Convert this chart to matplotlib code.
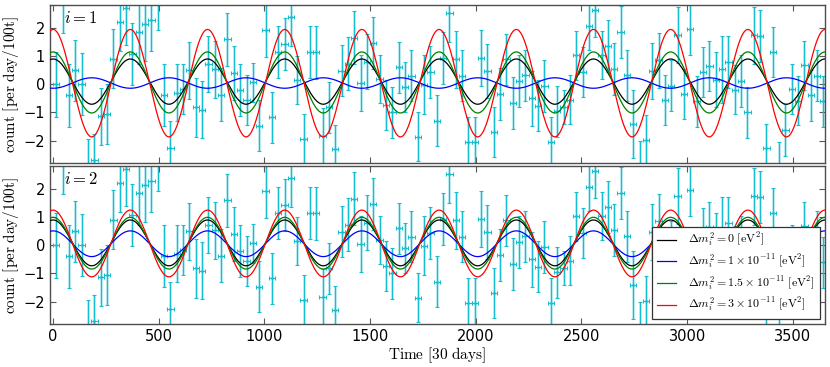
import numpy as np
import matplotlib
matplotlib.use("Agg")
import matplotlib.pyplot as plt

plt.rcParams["mathtext.fontset"] = "cm"
plt.rcParams["font.family"] = ["DejaVu Sans"]

# ---- data (30-day bins) ----
bin_start = 0
bin_width = 30
n_bins = 122
counts = [0.0, 3.0, -0.4, 0.49, 0.0, -3.0, -2.7, -1.14, -1.06, 0.9,
          2.19, 2.7, 1.08, 1.83, 2.13, 2.28, 2.9, -0.37, -2.25, -0.3,
          -0.17, 0.49, -0.82, -0.9, 0.72, 0.52, -0.37, 1.58, 0.4, -0.2,
          -0.56, 0.06, -1.47, 1.9, -1.17, 1.14, 1.42, 2.36, 0.15, -1.95,
          1.14, 1.12, -1.82, -0.82, -2.29, 0.48, 0.73, 1.65, 0.04, 0.8,
          1.44, 0.19, -0.74, -1.0, 0.6, -0.1, 0.3, -1.86, -0.02, 0.43,
          -1.3, 0.94, 2.5, 0.88, 0.3, -2.05, -2.05, 0.93, 0.46, -1.69,
          -0.35, 0.88, -0.68, 0.1, 0.31, -0.5, -0.76, -0.07, -2.06, -0.96,
          -0.8, -0.55, 1.02, 0.43, 2.06, 2.63, 1.02, 1.36, 0.52, 1.86,
          0.31, -1.42, -3.0, -1.98, 0.46, 0.85, -0.56, -0.05, 1.74, -0.35,
          1.94, -0.6, 0.43, 0.63, 0.15, 0.52, 0.79, -0.2, 0.11, -1.0,
          1.73, 1.71, -2.25, 1.14, -3.0, -1.62, -0.17, -0.58, 0.67, -0.4,
          0.3, -0.6]
count_err = [1.15, 1.2, 1.1, 1.07, 1.1, 1.05, 0.95, 1.0, 1.05, 1.05,
             1.0, 1.3, 1.1, 1.1, 1.3, 1.1, 1.0, 1.1, 0.95, 1.0,
             0.9, 1.0, 1.05, 1.0, 1.0, 1.0, 0.93, 0.93, 0.95, 0.92,
             0.9, 0.7, 0.9, 0.93, 0.9, 0.92, 0.92, 1.0, 0.85, 0.9,
             0.93, 0.93, 0.97, 0.9, 0.85, 0.9, 0.95, 0.95, 0.98, 0.98,
             0.92, 0.85, 0.87, 0.9, 0.9, 0.9, 0.9, 0.87, 1.05, 0.92,
             0.9, 0.92, 1.0, 1.0, 0.9, 0.9, 0.9, 1.0, 0.95, 0.87,
             0.92, 0.9, 0.92, 0.92, 0.9, 0.97, 0.9, 0.92, 0.9, 0.9,
             0.6, 0.87, 0.87, 0.9, 0.85, 0.95, 0.85, 0.92, 0.92, 0.92,
             0.9, 1.2, 1.0, 0.9, 1.0, 0.97, 0.87, 0.9, 1.0, 0.9,
             0.92, 0.9, 0.9, 0.88, 0.97, 1.2, 0.93, 0.87, 0.93, 0.9,
             1.0, 0.93, 0.85, 0.87, 0.95, 0.92, 0.87, 0.87, 0.87, 0.9,
             0.9, 0.9]
time_centres = bin_start + bin_width * (np.arange(n_bins) + 0.5)

# ---- model curves: offset + amplitude * cos(2 pi t / period) ----
period = 365.25
curve_labels = [r"$\Delta m_i^2=0\ [\mathrm{eV}^2]$",
                r"$\Delta m_i^2=1\times10^{-11}\ [\mathrm{eV}^2]$",
                r"$\Delta m_i^2=1.5\times10^{-11}\ [\mathrm{eV}^2]$",
                r"$\Delta m_i^2=3\times10^{-11}\ [\mathrm{eV}^2]$"]
curve_colors = ["k", "b", "g", "r"]
panel_names = [r"$i=1$", r"$i=2$"]
offsets_i1 = [0.09, 0.04, 0.06, 0.035]
amps_i1 = [0.80, -0.185, 1.08, 1.90]
offsets_i2 = [0.08, 0.05, 0.07, 0.06]
amps_i2 = [0.81, 0.455, 0.915, 1.18]

xlim = (-15, 3652)
ylim = (-2.8, 2.8)

fig = plt.figure(figsize=(8.3, 3.67), dpi=100)
ax1 = fig.add_axes([0.0602, 0.555, 0.9337, 0.4314])
ax2 = fig.add_axes([0.0602, 0.1163, 0.9337, 0.4314])

tt = np.linspace(xlim[0], xlim[1], 2000)
err_color = "#17becf"

for ax, name, offs, amps in [(ax1, panel_names[0], offsets_i1, amps_i1),
                             (ax2, panel_names[1], offsets_i2, amps_i2)]:
    ax.errorbar(time_centres, counts, yerr=count_err,
                fmt="none", ecolor=err_color, elinewidth=2.0, alpha=0.3,
                capsize=0, zorder=1)
    ax.errorbar(time_centres, counts, yerr=count_err, xerr=bin_width / 2,
                fmt=".", color=err_color, ms=2.0, ecolor=err_color,
                elinewidth=0.8, capsize=1.5, capthick=0.8, zorder=2)
    for off, amp, col, lab in zip(offs, amps, curve_colors, curve_labels):
        ax.plot(tt, off + amp * np.cos(2 * np.pi * tt / period),
                color=col, lw=0.9, label=lab, zorder=3)
    ax.set_xlim(*xlim)
    ax.set_ylim(*ylim)
    ax.set_yticks([-2, -1, 0, 1, 2])
    ax.set_xticks(np.arange(0, 3501, 500))
    ax.tick_params(direction="in", top=True, right=True, length=4,
                   width=0.8, color="0.35", labelsize=10.5)
    for sp in ax.spines.values():
        sp.set_color("0.3")
        sp.set_linewidth(1.0)
    ax.set_ylabel(r"$\mathrm{count\ [per\ day/100t]}$", fontsize=11,
                  labelpad=2)
    ax.text(0.018, 0.975, name, transform=ax.transAxes, va="top",
            ha="left", fontsize=12)

ax1.tick_params(labelbottom=False)
ax2.set_xlabel(r"$\mathrm{Time\ [30\ days]}$", fontsize=11, labelpad=1)

leg = ax2.legend(loc="lower right", fontsize=8.6, fancybox=False,
                 framealpha=1, handlelength=1.6, handletextpad=1.0,
                 borderpad=0.4, labelspacing=0.3, borderaxespad=0.45)
leg.get_frame().set_edgecolor("0.2")
leg.get_frame().set_linewidth(0.9)

fig.savefig("out.png", dpi=100, facecolor="white")
